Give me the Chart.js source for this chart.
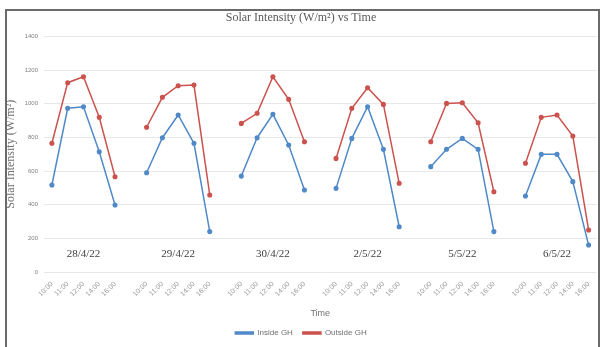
<!DOCTYPE html>
<html><head><meta charset="utf-8">
<script src="https://cdn.jsdelivr.net/npm/chart.js@4"></script>
<style>
html,body{margin:0;padding:0;background:#fff;overflow:hidden}
#frame{position:absolute;left:5px;top:9px;width:595px;height:350px;border:2px solid #6a6a6a;border-bottom:none;box-sizing:border-box}
#wrap{position:absolute;left:0;top:0;width:602px;height:347px}
</style></head><body>
<div id="frame"></div>
<div id="wrap"><canvas id="c" width="602" height="347"></canvas></div>
<script>
// Measurement days and reading times
const dates = ['28/4/22', '29/4/22', '30/4/22', '2/5/22', '5/5/22', '6/5/22'];
const times = ['10:00', '11:00', '12:00', '14:00', '16:00'];

// Solar intensity (W/m²), one row per day
const insideGH = [
  [517, 973, 982, 715, 398],
  [590, 798, 933, 765, 240],
  [570, 798, 937, 755, 487],
  [497, 794, 982, 729, 269],
  [626, 729, 794, 729, 240],
  [452, 699, 699, 537, 160]
];
const outsideGH = [
  [765, 1125, 1160, 919, 566],
  [860, 1038, 1107, 1111, 458],
  [883, 943, 1160, 1026, 774],
  [675, 973, 1095, 996, 527],
  [774, 1002, 1006, 887, 477],
  [646, 919, 933, 808, 250]
];

const yTicks = [0, 200, 400, 600, 800, 1000, 1200, 1400];
const dateLabelLevel = 105;

// Flatten into one category axis, with an empty slot between days
const labels = [], inData = [], outData = [], groupCenters = [];
dates.forEach((d, g) => {
  times.forEach((t, i) => {
    if (i === 2) groupCenters.push(labels.length);
    labels.push(t);
    inData.push(insideGH[g][i]);
    outData.push(outsideGH[g][i]);
  });
  if (g < dates.length - 1) { labels.push(''); inData.push(null); outData.push(null); }
});

// Day labels above the time axis
const dayLabels = {
  id: 'dayLabels',
  afterDatasetsDraw(chart) {
    const {ctx, scales: {x, y}} = chart;
    ctx.save();
    ctx.font = '11px "Liberation Serif"';
    ctx.fillStyle = '#404040';
    ctx.textAlign = 'center';
    ctx.textBaseline = 'middle';
    dates.forEach((d, g) => {
      ctx.fillText(d, x.getPixelForValue(groupCenters[g]), y.getPixelForValue(dateLabelLevel));
    });
    ctx.restore();
  }
};

new Chart(document.getElementById('c'), {
  type: 'line',
  data: {
    labels,
    datasets: [
      { label: 'Inside GH', data: inData, borderColor: '#5089c8', backgroundColor: '#5089c8',
        borderWidth: 1.5, pointRadius: 1.8, pointBackgroundColor: '#5089c8', spanGaps: false },
      { label: 'Outside GH', data: outData, borderColor: '#cb524d', backgroundColor: '#cb524d',
        borderWidth: 1.5, pointRadius: 1.8, pointBackgroundColor: '#cb524d', spanGaps: false }
    ]
  },
  options: {
    responsive: false,
    animation: false,
    layout: { padding: 0 },
    plugins: {
      title: {
        display: true,
        text: 'Solar Intensity (W/m²) vs Time',
        font: { family: '"Liberation Serif"', size: 12, weight: 'normal' },
        color: '#5a5a5a',
        padding: { top: 11, bottom: 11 }
      },
      legend: {
        position: 'bottom',
        labels: {
          font: { family: '"Liberation Sans"', size: 8 },
          color: '#707070',
          boxWidth: 18,
          boxHeight: 2,
          padding: 10
        }
      },
      tooltip: { enabled: false }
    },
    scales: {
      x: {
        offset: true,
        grid: { display: false },
        border: { display: false },
        ticks: {
          autoSkip: false, maxRotation: 45, minRotation: 45,
          font: { family: '"Liberation Sans"', size: 7 }, color: '#9a9a9a', padding: 0
        },
        title: {
          display: true, text: 'Time',
          font: { family: '"Liberation Sans"', size: 9 }, color: '#707070',
          padding: { top: 0, bottom: 0 }
        },
        afterFit(scale) { scale.height = 47; }
      },
      y: {
        min: 0, max: 1400,
        afterBuildTicks(scale) { scale.ticks = yTicks.map(v => ({ value: v })); },
        grid: { color: '#e8e8e8', lineWidth: 1, drawTicks: false },
        border: { display: false },
        ticks: {
          font: { family: '"Liberation Sans"', size: 6 }, color: '#808080', padding: 6,
          callback: v => String(v)
        },
        title: {
          display: true, text: 'Solar Intensity (W/m²)',
          font: { family: '"Liberation Serif"', size: 12 }, color: '#707070',
          padding: { top: 4, bottom: 0 }
        },
        afterFit(scale) { scale.width = 44; }
      }
    }
  },
  plugins: [dayLabels]
});
</script>
</body></html>
